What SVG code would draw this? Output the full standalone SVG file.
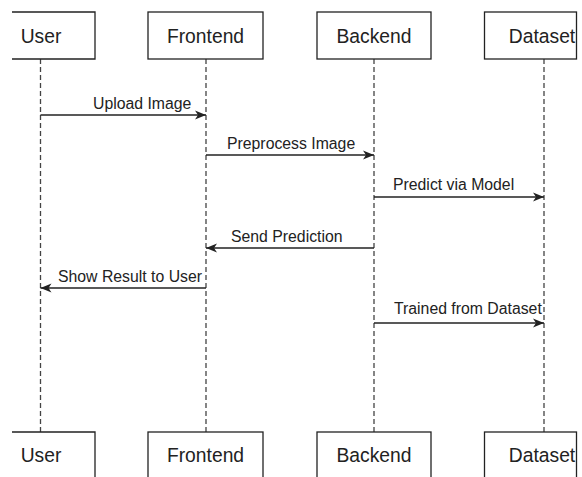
<svg xmlns="http://www.w3.org/2000/svg" width="582" height="477" viewBox="0 0 582 477">
<defs>
<marker id="ah" markerWidth="12" markerHeight="12" refX="11" refY="6" orient="auto" markerUnits="userSpaceOnUse">
<path d="M0,1.5 L11,6 L0,10.5 L3,6 Z" fill="#222"/>
</marker>
</defs>
<style>
.box{fill:#fff;stroke:#222;stroke-width:1.3}
.name{font-family:"Liberation Sans",Arial,sans-serif;font-size:19.3px;fill:#222;text-anchor:middle}
.life{stroke:#444;stroke-width:1.3;stroke-dasharray:5 3;fill:none}
.msg{stroke:#222;stroke-width:1.3;fill:none;marker-end:url(#ah)}
.lbl{font-family:"Liberation Sans",Arial,sans-serif;font-size:15.8px;fill:#222}
</style>
<rect width="582" height="477" fill="#fff"/>
<g id="lifelines">
<line class="life" x1="40.5" y1="59" x2="40.5" y2="432"/>
<line class="life" x1="206" y1="59" x2="206" y2="432"/>
<line class="life" x1="374" y1="59" x2="374" y2="432"/>
<line class="life" x1="544" y1="59" x2="544" y2="432"/>
</g>
<g id="user-top">
<path class="box" d="M12,12 H95 V59 H12"/>
<text class="name" x="41" y="42.5">User</text>
</g>
<g id="frontend-top">
<rect class="box" x="148" y="12" width="115" height="47"/>
<text class="name" x="205.5" y="42.5">Frontend</text>
</g>
<g id="backend-top">
<rect class="box" x="317" y="12" width="114" height="47"/>
<text class="name" x="374" y="42.5">Backend</text>
</g>
<g id="dataset-top">
<rect class="box" x="484.5" y="12" width="92" height="47"/>
<text class="name" x="542" y="42.5">Dataset</text>
</g>
<g id="user-bottom">
<path class="box" d="M12,432 H95 V480"/>
<text class="name" x="41" y="462">User</text>
</g>
<g id="frontend-bottom">
<rect class="box" x="148" y="432" width="115" height="48"/>
<text class="name" x="205.5" y="462">Frontend</text>
</g>
<g id="backend-bottom">
<rect class="box" x="317" y="432" width="114" height="48"/>
<text class="name" x="374" y="462">Backend</text>
</g>
<g id="dataset-bottom">
<rect class="box" x="484.5" y="432" width="92" height="48"/>
<text class="name" x="542" y="462">Dataset</text>
</g>
<g id="connectors">
<line class="msg" x1="40.5" y1="115" x2="206" y2="115"/>
<line class="msg" x1="206" y1="155" x2="374" y2="155"/>
<line class="msg" x1="374" y1="197" x2="544" y2="197"/>
<line class="msg" x1="374" y1="248" x2="206" y2="248"/>
<line class="msg" x1="206" y1="288" x2="40.5" y2="288"/>
<line class="msg" x1="374" y1="323" x2="544" y2="323"/>
</g>
<g id="labels">
<text class="lbl" x="93" y="108.5">Upload Image</text>
<text class="lbl" x="227" y="148.5">Preprocess Image</text>
<text class="lbl" x="393" y="190">Predict via Model</text>
<text class="lbl" x="231" y="241.5">Send Prediction</text>
<text class="lbl" x="58" y="281.5">Show Result to User</text>
<text class="lbl" x="394" y="314">Trained from Dataset</text>
</g>
</svg>
